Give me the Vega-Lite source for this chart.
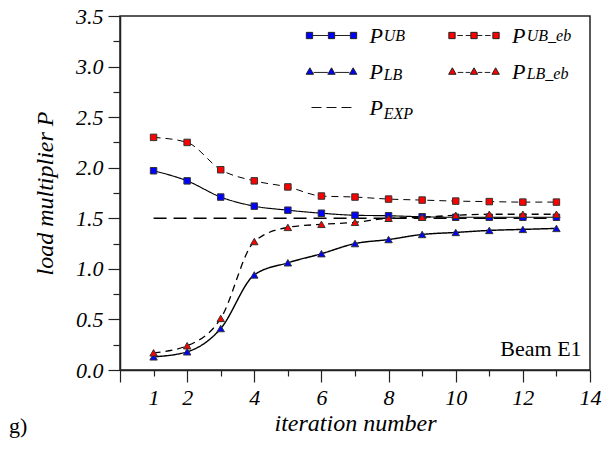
{
  "$schema": "https://vega.github.io/schema/vega-lite/v6.json",
  "width": 470,
  "height": 354,
  "autosize": "none",
  "padding": {"left": 120, "top": 16, "right": 16, "bottom": 89},
  "background": "white",
  "title": {"text": "g)", "orient": "bottom", "anchor": "start", "frame": "group", "font": "Liberation Serif, serif", "fontSize": 22, "fontWeight": "normal", "fontStyle": "normal", "color": "black", "dx": -111, "offset": -2, "baseline": "alphabetic"},
  "config": {
    "view": {"stroke": "#222", "strokeWidth": 1.5},
    "axis": {"grid": false, "domainColor": "#222", "domainWidth": 1.5, "tickColor": "#222", "tickWidth": 1.2, "labelFont": "Liberation Serif, serif", "labelFontStyle": "italic", "labelFontSize": 22, "labelColor": "black", "titleFont": "Liberation Serif, serif", "titleFontStyle": "italic", "titleFontWeight": "normal", "titleFontSize": 24, "titleColor": "black", "labelOverlap": false, "labelFlush": false}
  },
  "data": {"values": [
    {"series": "UB", "x": 1, "y": 1.97}, {"series": "UB", "x": 2, "y": 1.87}, {"series": "UB", "x": 3, "y": 1.71}, {"series": "UB", "x": 4, "y": 1.62}, {"series": "UB", "x": 5, "y": 1.58}, {"series": "UB", "x": 6, "y": 1.55}, {"series": "UB", "x": 7, "y": 1.53}, {"series": "UB", "x": 8, "y": 1.525}, {"series": "UB", "x": 9, "y": 1.515}, {"series": "UB", "x": 10, "y": 1.51}, {"series": "UB", "x": 11, "y": 1.51}, {"series": "UB", "x": 12, "y": 1.51}, {"series": "UB", "x": 13, "y": 1.51},
    {"series": "UB_eb", "x": 1, "y": 2.30}, {"series": "UB_eb", "x": 2, "y": 2.25}, {"series": "UB_eb", "x": 3, "y": 1.98}, {"series": "UB_eb", "x": 4, "y": 1.87}, {"series": "UB_eb", "x": 5, "y": 1.81}, {"series": "UB_eb", "x": 6, "y": 1.72}, {"series": "UB_eb", "x": 7, "y": 1.71}, {"series": "UB_eb", "x": 8, "y": 1.69}, {"series": "UB_eb", "x": 9, "y": 1.68}, {"series": "UB_eb", "x": 10, "y": 1.67}, {"series": "UB_eb", "x": 11, "y": 1.665}, {"series": "UB_eb", "x": 12, "y": 1.66}, {"series": "UB_eb", "x": 13, "y": 1.66},
    {"series": "LB", "x": 1, "y": 0.13}, {"series": "LB", "x": 2, "y": 0.18}, {"series": "LB", "x": 3, "y": 0.41}, {"series": "LB", "x": 4, "y": 0.94}, {"series": "LB", "x": 5, "y": 1.06}, {"series": "LB", "x": 6, "y": 1.15}, {"series": "LB", "x": 7, "y": 1.25}, {"series": "LB", "x": 8, "y": 1.29}, {"series": "LB", "x": 9, "y": 1.34}, {"series": "LB", "x": 10, "y": 1.36}, {"series": "LB", "x": 11, "y": 1.38}, {"series": "LB", "x": 12, "y": 1.39}, {"series": "LB", "x": 13, "y": 1.40},
    {"series": "LB_eb", "x": 1, "y": 0.17}, {"series": "LB_eb", "x": 2, "y": 0.24}, {"series": "LB_eb", "x": 3, "y": 0.51}, {"series": "LB_eb", "x": 4, "y": 1.27}, {"series": "LB_eb", "x": 5, "y": 1.41}, {"series": "LB_eb", "x": 6, "y": 1.44}, {"series": "LB_eb", "x": 7, "y": 1.46}, {"series": "LB_eb", "x": 8, "y": 1.50}, {"series": "LB_eb", "x": 9, "y": 1.51}, {"series": "LB_eb", "x": 10, "y": 1.53}, {"series": "LB_eb", "x": 11, "y": 1.54}, {"series": "LB_eb", "x": 12, "y": 1.54}, {"series": "LB_eb", "x": 13, "y": 1.54},
    {"series": "EXP", "x": 1, "y": 1.5}, {"series": "EXP", "x": 13, "y": 1.5}
  ]},
  "resolve": {"axis": {"x": "independent", "y": "independent"}},
  "encoding": {
    "x": {"field": "x", "type": "quantitative", "scale": {"domain": [0, 14], "nice": false, "zero": false}, "axis": null},
    "y": {"field": "y", "type": "quantitative", "scale": {"domain": [0, 3.5], "nice": false}, "axis": null}
  },
  "layer": [
    {
      "mark": {"type": "line", "color": "black", "interpolate": "monotone"},
      "encoding": {
        "x": {"field": "x", "type": "quantitative", "scale": {"domain": [0, 14], "nice": false, "zero": false},
          "axis": {"orient": "bottom", "values": [0, 2, 4, 6, 8, 10, 12, 14], "tickSize": 12, "labelPadding": 5,
            "labelExpr": "datum.value == 0 ? '' : datum.label", "title": "iteration number", "titlePadding": 3}},
        "y": {"field": "y", "type": "quantitative", "scale": {"domain": [0, 3.5], "nice": false},
          "axis": {"orient": "left", "values": [0, 0.5, 1, 1.5, 2, 2.5, 3, 3.5], "tickSize": 12, "labelPadding": 5, "format": ".1f",
            "title": "load multiplier P", "titlePadding": 18}},
        "strokeDash": {"field": "series", "type": "nominal",
          "scale": {"range": [[13, 7], [1, 0], [7, 5], [1, 0], [7, 5]]},
          "legend": {"orient": "none", "legendX": 224.7, "legendY": 0, "title": null, "columns": 2, "padding": 0, "rowPadding": 11, "columnPadding": 74, "symbolSize": 1369, "symbolOpacity": 0, "symbolStrokeWidth": 0, "labelOffset": 0, "labelFont": "Liberation Serif, serif", "labelFontStyle": "italic", "labelFontSize": 16, "labelColor": "black",
            "labelExpr": "['UB', 'LB', 'EXP', 'UB_eb', 'LB_eb'][datum.index]"}},
        "strokeWidth": {"field": "series", "type": "nominal",
          "scale": {"range": [1.6, 1, 1, 1, 1]}, "legend": null}
      }
    },
    {
      "mark": {"type": "point", "filled": true, "opacity": 0, "stroke": "#222", "strokeWidth": 1},
      "encoding": {
        "x": {"field": "x", "type": "quantitative", "scale": {"domain": [0, 14], "nice": false, "zero": false},
          "axis": {"orient": "bottom", "values": [1, 3, 5, 7, 9, 11, 13], "tickSize": 6, "labelPadding": 11, "domain": false,
            "labelExpr": "datum.value == 1 ? datum.label : ''", "title": null}},
        "y": {"field": "y", "type": "quantitative", "scale": {"domain": [0, 3.5], "nice": false},
          "axis": {"orient": "left", "values": [0.25, 0.75, 1.25, 1.75, 2.25, 2.75, 3.25], "tickSize": 7, "labels": false, "domain": false, "title": null}},
        "shape": {"field": "series", "type": "nominal",
          "scale": {"domain": ["UB", "LB", "EXP", "UB_eb", "LB_eb"], "range": [
            "M-1.36,-0.17H-1.02V0.17H-1.36ZM-0.17,-0.17H0.17V0.17H-0.17ZM1.02,-0.17H1.36V0.17H1.02ZM-1.02,0H-0.17M0.17,0H1.02",
            "M-1.37,0.15L-1.17,-0.2L-0.97,0.15ZM-0.2,0.15L0,-0.2L0.2,0.15ZM0.97,0.15L1.17,-0.2L1.37,0.15ZM-0.97,0.05H-0.2M0.2,0.05H0.97",
            "M-1.08,0H-0.54M-0.27,0H0.27M0.54,0H1.08",
            "M-1.36,-0.17H-1.02V0.17H-1.36ZM-0.17,-0.17H0.17V0.17H-0.17ZM1.02,-0.17H1.36V0.17H1.02ZM-0.9,0H-0.6M-0.45,0H-0.17M0.17,0H0.45M0.6,0H0.9",
            "M-1.37,0.15L-1.17,-0.2L-0.97,0.15ZM-0.2,0.15L0,-0.2L0.2,0.15ZM0.97,0.15L1.17,-0.2L1.37,0.15ZM-0.88,0.05H-0.58M-0.45,0.05H-0.2M0.2,0.05H0.45M0.58,0.05H0.88"]},
          "legend": {"orient": "none", "legendX": 192.5, "legendY": 0.5, "title": null, "columns": 2, "padding": 0, "rowPadding": 6, "columnPadding": 62.5, "symbolSize": 1369, "symbolOpacity": 1, "symbolStrokeColor": "#222", "symbolStrokeWidth": 1, "labelOffset": 19, "labelFont": "Liberation Serif, serif", "labelFontStyle": "italic", "labelFontSize": 22, "labelColor": "black", "labelExpr": "'P'"}},
        "fill": {"field": "series", "type": "nominal",
          "scale": {"domain": ["UB", "LB", "EXP", "UB_eb", "LB_eb"], "range": ["#0000ff", "#0000ff", "transparent", "#ff0000", "#ff0000"]},
          "legend": {"orient": "none", "legendX": 192.5, "legendY": 0.5, "title": null, "columns": 2, "padding": 0, "rowPadding": 6, "columnPadding": 62.5, "symbolSize": 1369, "symbolOpacity": 1, "symbolStrokeColor": "#222", "symbolStrokeWidth": 1, "labelOffset": 19, "labelFont": "Liberation Serif, serif", "labelFontStyle": "italic", "labelFontSize": 22, "labelColor": "black", "labelExpr": "'P'"}},
        "stroke": {"field": "series", "type": "nominal",
          "scale": {"domain": ["UB", "LB", "EXP", "UB_eb", "LB_eb"], "range": ["#222222", "#222222", "#111111", "#222222", "#222222"]},
          "legend": {"orient": "none", "legendX": 192.5, "legendY": 0.5, "title": null, "columns": 2, "padding": 0, "rowPadding": 6, "columnPadding": 62.5, "symbolSize": 1369, "symbolOpacity": 1, "symbolStrokeColor": "#222", "symbolStrokeWidth": 1, "labelOffset": 19, "labelFont": "Liberation Serif, serif", "labelFontStyle": "italic", "labelFontSize": 22, "labelColor": "black", "labelExpr": "'P'"}}
      }
    },
    {
      "transform": [{"filter": "datum.series == 'UB'"}],
      "mark": {"type": "point", "filled": true, "shape": "square", "color": "#0000ff", "stroke": "#333", "strokeWidth": 1, "opacity": 1, "size": 42}
    },
    {
      "transform": [{"filter": "datum.series == 'UB_eb'"}],
      "mark": {"type": "point", "filled": true, "shape": "square", "color": "#ff0000", "stroke": "#333", "strokeWidth": 1, "opacity": 1, "size": 42}
    },
    {
      "transform": [{"filter": "datum.series == 'LB'"}],
      "mark": {"type": "point", "filled": true, "shape": "triangle-up", "color": "#0000ff", "stroke": "#333", "strokeWidth": 1, "opacity": 1, "size": 55}
    },
    {
      "transform": [{"filter": "datum.series == 'LB_eb'"}],
      "mark": {"type": "point", "filled": true, "shape": "triangle-up", "color": "#ff0000", "stroke": "#333", "strokeWidth": 1, "opacity": 1, "size": 55}
    },
    {
      "transform": [{"filter": "datum.series == 'EXP' && datum.x == 13"}],
      "mark": {"type": "text", "text": "Beam E1", "align": "right", "baseline": "alphabetic", "font": "Liberation Serif, serif", "fontSize": 22, "color": "black"},
      "encoding": {"x": {"datum": 13.75}, "y": {"datum": 0.138}}
    }
  ]
}
